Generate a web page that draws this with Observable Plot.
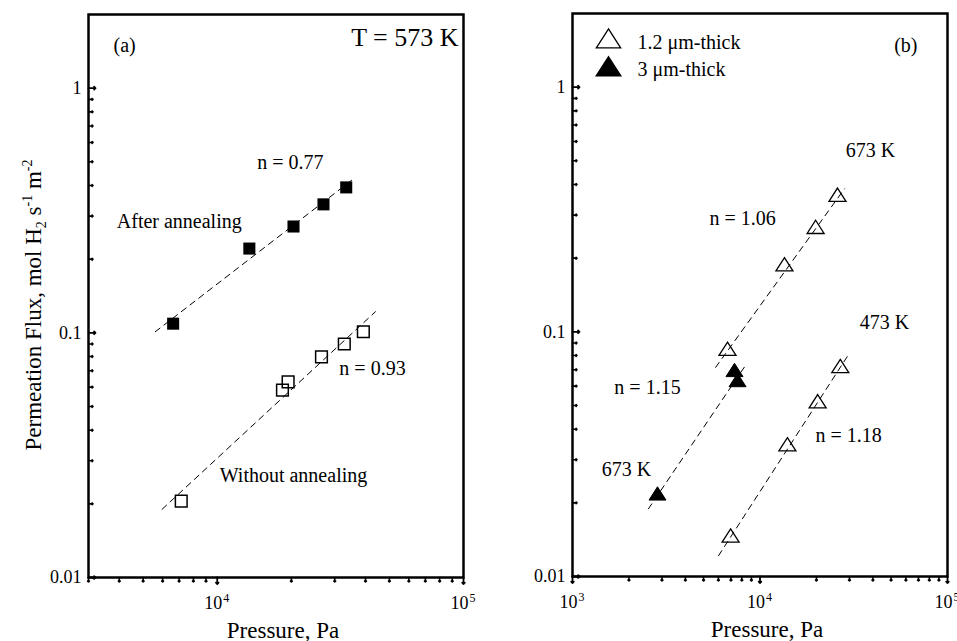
<!DOCTYPE html>
<html><head><meta charset="utf-8">
<script src="https://cdn.jsdelivr.net/npm/d3@7"></script>
<script src="https://cdn.jsdelivr.net/npm/@observablehq/plot@0.6"></script>
<style>
body{margin:0;background:#fff;}
#wrap{position:relative;width:957px;height:641px;font-family:"Liberation Serif","Times New Roman",serif;color:#000;}
#wrap svg{position:absolute;top:0;overflow:visible;}
#ylab{position:absolute;left:35px;top:305px;transform:translate(-50%,-50%) rotate(-90deg);white-space:nowrap;font-size:23px;line-height:1;}
#ylab sup,#ylab sub{font-size:14px;}
</style></head><body><div id="wrap"><div id="ylab">Permeation Flux, mol H<sub>2</sub> s<sup>-1</sup> m<sup>-2</sup></div></div>
<script>
// ---- Panel (a): T = 573 K ----
const afterP = [6620, 13500, 20400, 27000, 33400];
const afterF = [0.109, 0.221, 0.272, 0.335, 0.393];
const withoutP = [7140, 18400, 19400, 26500, 32800, 39200];
const withoutF = [0.0205, 0.0583, 0.063, 0.0797, 0.090, 0.101];
const fitAfterP = [5600, 36400];
const fitAfterF = [0.101, 0.432];
const fitWithoutP = [5970, 43900];
const fitWithoutF = [0.019, 0.122];

// ---- Panel (b) ----
const thin673P = [6710, 13500, 19800, 25900];
const thin673F = [0.0835, 0.185, 0.263, 0.356];
const thick673P = [2840, 7310, 7590];
const thick673F = [0.0214, 0.0684, 0.0622];
const thin473P = [6970, 14000, 20300, 26800];
const thin473F = [0.0144, 0.034, 0.051, 0.071];
const fitThin673P = [5800, 28200];
const fitThin673F = [0.0716, 0.384];
const fitThick673P = [2540, 8380];
const fitThick673F = [0.0189, 0.073];
const fitThin473P = [6010, 30000];
const fitThin473F = [0.01216, 0.0818];

// annotation labels (anchored in data units)
const annA = [
  {x: 19800, y: 0.498, text: "n = 0.77"},
  {x: 7010, y: 0.286, text: "After annealing"},
  {x: 42700, y: 0.0711, text: "n = 0.93"},
  {x: 20400, y: 0.026, text: "Without annealing"}
];
const annB = [
  {x: 38800, y: 0.551, text: "673 K"},
  {x: 8070, y: 0.290, text: "n = 1.06"},
  {x: 46100, y: 0.1092, text: "473 K"},
  {x: 2512, y: 0.0593, text: "n = 1.15"},
  {x: 29660, y: 0.0377, text: "n = 1.18"},
  {x: 1941, y: 0.0274, text: "673 K"}
];

// ticks
const yMajor = [0.01, 0.1, 1];
const yMinor = [0.02,0.03,0.04,0.05,0.06,0.07,0.08,0.09,0.2,0.3,0.4,0.5,0.6,0.7,0.8,0.9];
const xMajorA = [1e4, 1e5];
const xMinorA = [3000,4000,5000,6000,7000,8000,9000,2e4,3e4,4e4,5e4,6e4,7e4,8e4,9e4];
const xMajorB = [1e3, 1e4, 1e5];
const xMinorB = [2000,3000,4000,5000,6000,7000,8000,9000,2e4,3e4,4e4,5e4,6e4,7e4,8e4,9e4];

const pts = (xs, ys) => xs.map((x, i) => ({x, y: ys[i]}));
const expo = d => String(Math.round(Math.log10(d)));

// flattened triangle symbol
const tri = {
  draw(ctx, size) {
    const r = Math.sqrt(size / Math.PI);
    const w = r * 2.7, h = w * 0.78;
    ctx.moveTo(0, -2 * h / 3);
    ctx.lineTo(w / 2, h / 3);
    ctx.lineTo(-w / 2, h / 3);
    ctx.closePath();
  }
};

const FONT = '"Liberation Serif","Times New Roman",serif';

function axesMarks(xMajor, xMinor) {
  return [
    Plot.vector(yMinor, {y: d => d, frameAnchor: "left", length: 4.5, rotate: 90, anchor: "start", strokeWidth: 1.6}),
    Plot.vector(yMajor, {y: d => d, frameAnchor: "left", length: 7, rotate: 90, anchor: "start", strokeWidth: 1.8}),
    Plot.vector(xMinor, {x: d => d, frameAnchor: "bottom", length: 4.5, rotate: 180, anchor: "start", strokeWidth: 1.6}),
    Plot.vector(xMajor, {x: d => d, frameAnchor: "bottom", length: 6.5, rotate: 180, anchor: "start", strokeWidth: 1.8}),
    Plot.axisY({ticks: yMajor, tickSize: 0, tickPadding: 7, tickFormat: d => String(d), fontSize: 18, fontFamily: FONT, label: null}),
    Plot.text(xMajor, {x: d => d, frameAnchor: "bottom", text: () => "10", dx: -4, dy: 31, fontSize: 18, fontFamily: FONT, textAnchor: "middle", lineAnchor: "bottom"}),
    Plot.text(xMajor, {x: d => d, frameAnchor: "bottom", text: expo, dx: 6, dy: 24, fontSize: 12, fontFamily: FONT, textAnchor: "start", lineAnchor: "bottom"}),
    Plot.text(["Pressure, Pa"], {frameAnchor: "bottom", dx: 7, dy: 53, fontSize: 23, fontFamily: FONT, lineAnchor: "middle"}),
    Plot.frame({strokeWidth: 2.5})
  ];
}

const dash = {x: "x", y: "y", stroke: "black", strokeWidth: 1, strokeDasharray: "6,5"};

const left = Plot.plot({
  width: 480, height: 641,
  marginLeft: 88, marginRight: 17, marginTop: 14, marginBottom: 64,
  style: {fontFamily: FONT, background: "transparent", color: "black", overflow: "visible"},
  x: {type: "log", domain: [3000, 1e5], axis: null},
  y: {type: "log", domain: [0.01, 2]},
  marks: [
    ...axesMarks(xMajorA, xMinorA),
    Plot.line(pts(fitAfterP, fitAfterF), dash),
    Plot.line(pts(fitWithoutP, fitWithoutF), dash),
    Plot.dot(pts(afterP, afterF), {x: "x", y: "y", symbol: "square", r: 6.8, fill: "black", stroke: "none"}),
    Plot.dot(pts(withoutP, withoutF), {x: "x", y: "y", symbol: "square", r: 6.6, fill: "none", stroke: "black", strokeWidth: 1.5}),
    Plot.text(annA, {x: "x", y: "y", text: "text", fontSize: 20, fontFamily: FONT, lineAnchor: "middle"}),
    Plot.text(["(a)"], {frameAnchor: "top-left", dx: 25, dy: 31, fontSize: 20, fontFamily: FONT, lineAnchor: "middle"}),
    Plot.text(["T = 573 K"], {frameAnchor: "top-right", dx: -5, dy: 23, fontSize: 26, fontFamily: FONT, textAnchor: "end", lineAnchor: "middle"})
  ]
});
left.style.left = "0px";

const right = Plot.plot({
  width: 477, height: 641,
  marginLeft: 92, marginRight: 10, marginTop: 13, marginBottom: 65,
  style: {fontFamily: FONT, background: "transparent", color: "black", overflow: "visible"},
  x: {type: "log", domain: [1e3, 1e5], axis: null},
  y: {type: "log", domain: [0.01, 2]},
  marks: [
    ...axesMarks(xMajorB, xMinorB),
    Plot.line(pts(fitThin673P, fitThin673F), dash),
    Plot.line(pts(fitThick673P, fitThick673F), dash),
    Plot.line(pts(fitThin473P, fitThin473F), dash),
    Plot.dot(pts(thin673P, thin673F), {x: "x", y: "y", symbol: tri, r: 6.3, fill: "none", stroke: "black", strokeWidth: 1.3}),
    Plot.dot(pts(thin473P, thin473F), {x: "x", y: "y", symbol: tri, r: 6.3, fill: "none", stroke: "black", strokeWidth: 1.3}),
    Plot.dot(pts(thick673P, thick673F), {x: "x", y: "y", symbol: tri, r: 6.3, fill: "black", stroke: "black", strokeWidth: 1}),
    Plot.text(annB, {x: "x", y: "y", text: "text", fontSize: 20, fontFamily: FONT, lineAnchor: "middle"}),
    Plot.dot([0], {frameAnchor: "top-left", dx: 36, dy: 28, symbol: tri, r: 9, fill: "none", stroke: "black", strokeWidth: 1.3}),
    Plot.dot([0], {frameAnchor: "top-left", dx: 36, dy: 56, symbol: tri, r: 9, fill: "black", stroke: "black"}),
    Plot.text(["1.2 \u03bcm-thick"], {frameAnchor: "top-left", dx: 65, dy: 29, fontSize: 20, fontFamily: FONT, textAnchor: "start", lineAnchor: "middle"}),
    Plot.text(["3 \u03bcm-thick"], {frameAnchor: "top-left", dx: 65, dy: 56, fontSize: 20, fontFamily: FONT, textAnchor: "start", lineAnchor: "middle"}),
    Plot.text(["(b)"], {frameAnchor: "top-right", dx: -30, dy: 32, fontSize: 20, fontFamily: FONT, lineAnchor: "middle"})
  ]
});
right.style.left = "480px";

const wrap = document.getElementById("wrap");
wrap.appendChild(left);
wrap.appendChild(right);
</script></body></html>
